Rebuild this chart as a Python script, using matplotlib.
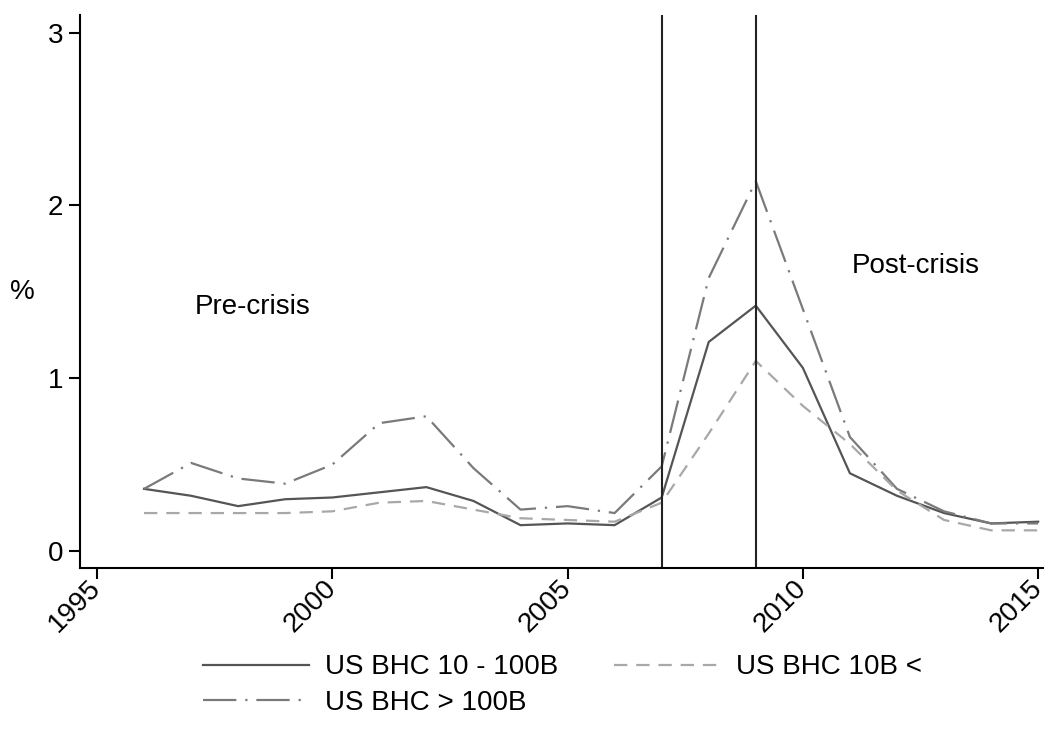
import matplotlib
matplotlib.use("Agg")
import matplotlib.pyplot as plt

plt.rcParams['font.family'] = ['Liberation Sans', 'DejaVu Sans']

years = list(range(1996, 2016))
bhc_mid = [0.36, 0.32, 0.26, 0.30, 0.31, 0.34, 0.37, 0.29, 0.15, 0.16,
           0.15, 0.31, 1.21, 1.42, 1.06, 0.45, 0.32, 0.22, 0.16, 0.17]
bhc_large = [0.36, 0.51, 0.42, 0.39, 0.50, 0.74, 0.78, 0.48, 0.24, 0.26,
             0.22, 0.49, 1.58, 2.14, 1.40, 0.66, 0.36, 0.23, 0.16, 0.16]
bhc_small = [0.22, 0.22, 0.22, 0.22, 0.23, 0.28, 0.29, 0.24, 0.19, 0.18,
             0.17, 0.28, 0.68, 1.10, 0.84, 0.62, 0.35, 0.18, 0.12, 0.12]
crisis_years = [2007, 2009]
x_ticks = [1995, 2000, 2005, 2010, 2015]
y_ticks = [0, 1, 2, 3]

fs = 20
fig = plt.figure(figsize=(10.46, 7.43), dpi=100)
ax = fig.add_axes([0.0765, 0.2355, 0.9205, 0.744])

l1, = ax.plot(years, bhc_mid, color='#555555', lw=1.6, label='US BHC 10 - 100B')
l2, = ax.plot(years, bhc_large, color='#7a7a7a', lw=1.6, dashes=(15, 4, 1, 4),
              label='US BHC > 100B')
l3, = ax.plot(years, bhc_small, color='#a8a8a8', lw=1.6, dashes=(6, 4),
              label='US BHC 10B <')

# crisis window markers
for yr in crisis_years:
    ax.axvline(yr, color='#222222', lw=1.5)

ax.text(1998.3, 1.41, 'Pre-crisis', fontsize=fs, ha='center', va='center')
ax.text(2012.4, 1.65, 'Post-crisis', fontsize=fs, ha='center', va='center')

ax.set_xlim(1994.64, 2015.1)
ax.set_ylim(-0.098, 3.10)
ax.set_xticks(x_ticks)
ax.set_yticks(y_ticks)
ax.tick_params(axis='both', labelsize=fs, length=8, width=1.5, direction='out', pad=4)
plt.setp(ax.get_xticklabels(), rotation=45, ha='right', va='center',
         rotation_mode='anchor')
ax.set_ylabel('%', fontsize=fs, rotation=0, ha='center', va='center')
ax.yaxis.set_label_coords(-0.06, 0.5)

for s in ['top', 'right']:
    ax.spines[s].set_visible(False)
for s in ['left', 'bottom']:
    ax.spines[s].set_linewidth(1.5)

fig.legend(handles=[l1, l2, l3], loc='upper center', bbox_to_anchor=(0.538, 0.138),
           ncol=2, frameon=False, fontsize=fs, handlelength=3.8,
           handletextpad=0.6, columnspacing=2.0, labelspacing=0.35,
           borderpad=0.0)

fig.savefig('out.png', dpi=100)
